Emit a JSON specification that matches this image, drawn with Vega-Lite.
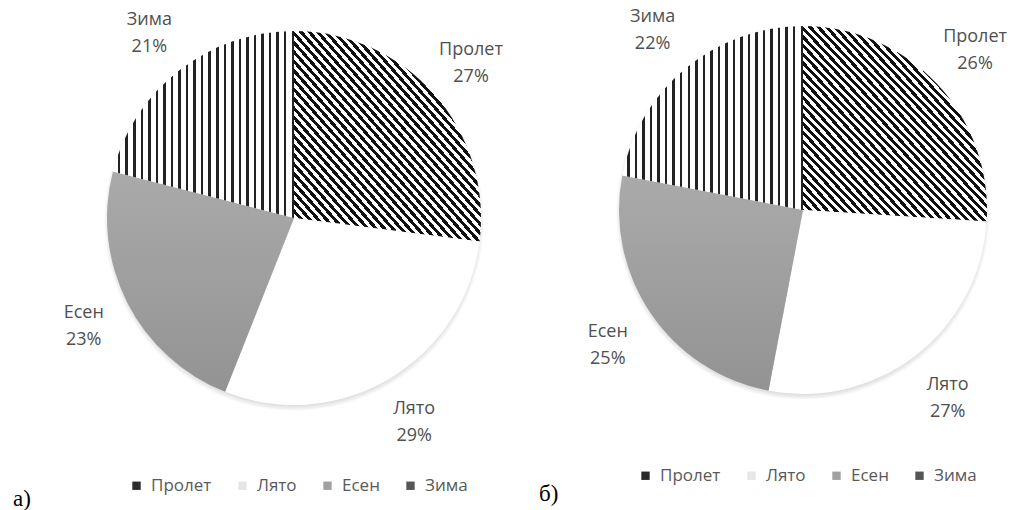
{
"$schema": "https://vega.github.io/schema/vega-lite/v6.json",
"padding": 0,
"bounds": "flush",
"spacing": 0,
"background": "white",
"config": {"view": {"stroke": null}, "font": "Open Sans"},
"datasets": {
"a": [
{"season": "Пролет", "value": 27, "i": 1, "label": "Пролет\n27%"},
{"season": "Лято", "value": 29, "i": 2, "label": "Лято\n29%"},
{"season": "Есен", "value": 23, "i": 3, "label": "Есен\n23%"},
{"season": "Зима", "value": 21, "i": 4, "label": "Зима\n21%"}
],
"b": [
{"season": "Пролет", "value": 26, "i": 1, "label": "Пролет\n26%"},
{"season": "Лято", "value": 27, "i": 2, "label": "Лято\n27%"},
{"season": "Есен", "value": 25, "i": 3, "label": "Есен\n25%"},
{"season": "Зима", "value": 22, "i": 4, "label": "Зима\n22%"}
]
},
"hconcat": [
{
"width": 588, "height": 436,
"data": {"name": "a"},
"layer": [
{
"transform": [{"aggregate": [{"op": "sum", "field": "value", "as": "total"}]}],
"mark": {"type": "arc", "outerRadius": 193, "fill": {"gradient": "radial", "x1": 0.5, "y1": 0.508, "r1": 0, "x2": 0.5, "y2": 0.508, "r2": 0.5, "stops": [{"offset": 0, "color": "#cfcfcf"}, {"offset": 0.94, "color": "#cfcfcf"}, {"offset": 0.985, "color": "#ffffff"}]}},
"encoding": {"theta": {"field": "total", "type": "quantitative"}}
},
{
"mark": {"type": "arc", "outerRadius": 187, "strokeWidth": 0, "opacity": 0},
"encoding": {
"theta": {"field": "value", "type": "quantitative", "stack": true},
"order": {"field": "i", "type": "quantitative"},
"color": {"field": "season", "type": "nominal",
"scale": {"domain": ["Пролет", "Лято", "Есен", "Зима"], "range": ["#2b2b2b", "#e6e6e6", "#a0a0a0", "#555555"]},
"legend": {"orient": "none", "legendX": 13, "legendY": 477, "direction": "horizontal", "columns": 4, "symbolType": "square", "symbolSize": 70, "symbolStrokeWidth": 0, "symbolOpacity": 1, "labelFont": "Open Sans", "labelFontSize": 17, "labelColor": "#595959", "labelOffset": 6, "columnPadding": 22, "title": "а)", "titleOrient": "left", "titleFont": "Liberation Serif", "titleFontSize": 23, "titleFontWeight": "normal", "titleColor": "#000000", "titlePadding": 97, "titleBaseline": "line-top", "titleLineHeight": 28}
}
}
},
{
"mark": {"type": "arc", "outerRadius": 187, "strokeWidth": 0},
"encoding": {
"theta": {"field": "value", "type": "quantitative", "stack": true},
"order": {"field": "i", "type": "quantitative"},
"detail": {"field": "season", "type": "nominal"},
"fill": {"condition": [
{"test": "datum.season === 'Пролет'", "value": {"gradient": "linear", "x1": 0, "y1": 1, "x2": 1, "y2": 0, "stops": [{"offset":0,"color":"#111"},
{"offset":0.0111,"color":"#111"},{"offset":0.0111,"color":"#fff"},
{"offset":0.0222,"color":"#fff"},{"offset":0.0222,"color":"#111"},
{"offset":0.0333,"color":"#111"},{"offset":0.0333,"color":"#fff"},
{"offset":0.0444,"color":"#fff"},{"offset":0.0444,"color":"#111"},
{"offset":0.0556,"color":"#111"},{"offset":0.0556,"color":"#fff"},
{"offset":0.0667,"color":"#fff"},{"offset":0.0667,"color":"#111"},
{"offset":0.0778,"color":"#111"},{"offset":0.0778,"color":"#fff"},
{"offset":0.0889,"color":"#fff"},{"offset":0.0889,"color":"#111"},
{"offset":0.1,"color":"#111"},{"offset":0.1,"color":"#fff"},
{"offset":0.1111,"color":"#fff"},{"offset":0.1111,"color":"#111"},
{"offset":0.1222,"color":"#111"},{"offset":0.1222,"color":"#fff"},
{"offset":0.1333,"color":"#fff"},{"offset":0.1333,"color":"#111"},
{"offset":0.1444,"color":"#111"},{"offset":0.1444,"color":"#fff"},
{"offset":0.1556,"color":"#fff"},{"offset":0.1556,"color":"#111"},
{"offset":0.1667,"color":"#111"},{"offset":0.1667,"color":"#fff"},
{"offset":0.1778,"color":"#fff"},{"offset":0.1778,"color":"#111"},
{"offset":0.1889,"color":"#111"},{"offset":0.1889,"color":"#fff"},
{"offset":0.2,"color":"#fff"},{"offset":0.2,"color":"#111"},
{"offset":0.2111,"color":"#111"},{"offset":0.2111,"color":"#fff"},
{"offset":0.2222,"color":"#fff"},{"offset":0.2222,"color":"#111"},
{"offset":0.2333,"color":"#111"},{"offset":0.2333,"color":"#fff"},
{"offset":0.2444,"color":"#fff"},{"offset":0.2444,"color":"#111"},
{"offset":0.2556,"color":"#111"},{"offset":0.2556,"color":"#fff"},
{"offset":0.2667,"color":"#fff"},{"offset":0.2667,"color":"#111"},
{"offset":0.2778,"color":"#111"},{"offset":0.2778,"color":"#fff"},
{"offset":0.2889,"color":"#fff"},{"offset":0.2889,"color":"#111"},
{"offset":0.3,"color":"#111"},{"offset":0.3,"color":"#fff"},
{"offset":0.3111,"color":"#fff"},{"offset":0.3111,"color":"#111"},
{"offset":0.3222,"color":"#111"},{"offset":0.3222,"color":"#fff"},
{"offset":0.3333,"color":"#fff"},{"offset":0.3333,"color":"#111"},
{"offset":0.3444,"color":"#111"},{"offset":0.3444,"color":"#fff"},
{"offset":0.3556,"color":"#fff"},{"offset":0.3556,"color":"#111"},
{"offset":0.3667,"color":"#111"},{"offset":0.3667,"color":"#fff"},
{"offset":0.3778,"color":"#fff"},{"offset":0.3778,"color":"#111"},
{"offset":0.3889,"color":"#111"},{"offset":0.3889,"color":"#fff"},
{"offset":0.4,"color":"#fff"},{"offset":0.4,"color":"#111"},
{"offset":0.4111,"color":"#111"},{"offset":0.4111,"color":"#fff"},
{"offset":0.4222,"color":"#fff"},{"offset":0.4222,"color":"#111"},
{"offset":0.4333,"color":"#111"},{"offset":0.4333,"color":"#fff"},
{"offset":0.4444,"color":"#fff"},{"offset":0.4444,"color":"#111"},
{"offset":0.4556,"color":"#111"},{"offset":0.4556,"color":"#fff"},
{"offset":0.4667,"color":"#fff"},{"offset":0.4667,"color":"#111"},
{"offset":0.4778,"color":"#111"},{"offset":0.4778,"color":"#fff"},
{"offset":0.4889,"color":"#fff"},{"offset":0.4889,"color":"#111"},
{"offset":0.5,"color":"#111"},{"offset":0.5,"color":"#fff"},
{"offset":0.5111,"color":"#fff"},{"offset":0.5111,"color":"#111"},
{"offset":0.5222,"color":"#111"},{"offset":0.5222,"color":"#fff"},
{"offset":0.5333,"color":"#fff"},{"offset":0.5333,"color":"#111"},
{"offset":0.5444,"color":"#111"},{"offset":0.5444,"color":"#fff"},
{"offset":0.5556,"color":"#fff"},{"offset":0.5556,"color":"#111"},
{"offset":0.5667,"color":"#111"},{"offset":0.5667,"color":"#fff"},
{"offset":0.5778,"color":"#fff"},{"offset":0.5778,"color":"#111"},
{"offset":0.5889,"color":"#111"},{"offset":0.5889,"color":"#fff"},
{"offset":0.6,"color":"#fff"},{"offset":0.6,"color":"#111"},
{"offset":0.6111,"color":"#111"},{"offset":0.6111,"color":"#fff"},
{"offset":0.6222,"color":"#fff"},{"offset":0.6222,"color":"#111"},
{"offset":0.6333,"color":"#111"},{"offset":0.6333,"color":"#fff"},
{"offset":0.6444,"color":"#fff"},{"offset":0.6444,"color":"#111"},
{"offset":0.6556,"color":"#111"},{"offset":0.6556,"color":"#fff"},
{"offset":0.6667,"color":"#fff"},{"offset":0.6667,"color":"#111"},
{"offset":0.6778,"color":"#111"},{"offset":0.6778,"color":"#fff"},
{"offset":0.6889,"color":"#fff"},{"offset":0.6889,"color":"#111"},
{"offset":0.7,"color":"#111"},{"offset":0.7,"color":"#fff"},
{"offset":0.7111,"color":"#fff"},{"offset":0.7111,"color":"#111"},
{"offset":0.7222,"color":"#111"},{"offset":0.7222,"color":"#fff"},
{"offset":0.7333,"color":"#fff"},{"offset":0.7333,"color":"#111"},
{"offset":0.7444,"color":"#111"},{"offset":0.7444,"color":"#fff"},
{"offset":0.7556,"color":"#fff"},{"offset":0.7556,"color":"#111"},
{"offset":0.7667,"color":"#111"},{"offset":0.7667,"color":"#fff"},
{"offset":0.7778,"color":"#fff"},{"offset":0.7778,"color":"#111"},
{"offset":0.7889,"color":"#111"},{"offset":0.7889,"color":"#fff"},
{"offset":0.8,"color":"#fff"},{"offset":0.8,"color":"#111"},
{"offset":0.8111,"color":"#111"},{"offset":0.8111,"color":"#fff"},
{"offset":0.8222,"color":"#fff"},{"offset":0.8222,"color":"#111"},
{"offset":0.8333,"color":"#111"},{"offset":0.8333,"color":"#fff"},
{"offset":0.8444,"color":"#fff"},{"offset":0.8444,"color":"#111"},
{"offset":0.8556,"color":"#111"},{"offset":0.8556,"color":"#fff"},
{"offset":0.8667,"color":"#fff"},{"offset":0.8667,"color":"#111"},
{"offset":0.8778,"color":"#111"},{"offset":0.8778,"color":"#fff"},
{"offset":0.8889,"color":"#fff"},{"offset":0.8889,"color":"#111"},
{"offset":0.9,"color":"#111"},{"offset":0.9,"color":"#fff"},
{"offset":0.9111,"color":"#fff"},{"offset":0.9111,"color":"#111"},
{"offset":0.9222,"color":"#111"},{"offset":0.9222,"color":"#fff"},
{"offset":0.9333,"color":"#fff"},{"offset":0.9333,"color":"#111"},
{"offset":0.9444,"color":"#111"},{"offset":0.9444,"color":"#fff"},
{"offset":0.9556,"color":"#fff"},{"offset":0.9556,"color":"#111"},
{"offset":0.9667,"color":"#111"},{"offset":0.9667,"color":"#fff"},
{"offset":0.9778,"color":"#fff"},{"offset":0.9778,"color":"#111"},
{"offset":0.9889,"color":"#111"},{"offset":0.9889,"color":"#fff"},
{"offset":1,"color":"#fff"}]}},
{"test": "datum.season === 'Есен'", "value": {"gradient": "linear", "x1": 0, "y1": 0, "x2": 0, "y2": 1, "stops": [{"offset": 0, "color": "#aaaaaa"}, {"offset": 1, "color": "#939393"}]}},
{"test": "datum.season === 'Зима'", "value": {"gradient": "linear", "x1": 0, "y1": 0, "x2": 1, "y2": 0, "stops": [{"offset":0,"color":"#fff"},
{"offset":0.0279,"color":"#fff"},{"offset":0.0279,"color":"#222"},
{"offset":0.0417,"color":"#222"},{"offset":0.0417,"color":"#fff"},
{"offset":0.0696,"color":"#fff"},{"offset":0.0696,"color":"#222"},
{"offset":0.0833,"color":"#222"},{"offset":0.0833,"color":"#fff"},
{"offset":0.1113,"color":"#fff"},{"offset":0.1113,"color":"#222"},
{"offset":0.125,"color":"#222"},{"offset":0.125,"color":"#fff"},
{"offset":0.1529,"color":"#fff"},{"offset":0.1529,"color":"#222"},
{"offset":0.1667,"color":"#222"},{"offset":0.1667,"color":"#fff"},
{"offset":0.1946,"color":"#fff"},{"offset":0.1946,"color":"#222"},
{"offset":0.2083,"color":"#222"},{"offset":0.2083,"color":"#fff"},
{"offset":0.2363,"color":"#fff"},{"offset":0.2363,"color":"#222"},
{"offset":0.25,"color":"#222"},{"offset":0.25,"color":"#fff"},
{"offset":0.2779,"color":"#fff"},{"offset":0.2779,"color":"#222"},
{"offset":0.2917,"color":"#222"},{"offset":0.2917,"color":"#fff"},
{"offset":0.3196,"color":"#fff"},{"offset":0.3196,"color":"#222"},
{"offset":0.3333,"color":"#222"},{"offset":0.3333,"color":"#fff"},
{"offset":0.3613,"color":"#fff"},{"offset":0.3613,"color":"#222"},
{"offset":0.375,"color":"#222"},{"offset":0.375,"color":"#fff"},
{"offset":0.4029,"color":"#fff"},{"offset":0.4029,"color":"#222"},
{"offset":0.4167,"color":"#222"},{"offset":0.4167,"color":"#fff"},
{"offset":0.4446,"color":"#fff"},{"offset":0.4446,"color":"#222"},
{"offset":0.4583,"color":"#222"},{"offset":0.4583,"color":"#fff"},
{"offset":0.4863,"color":"#fff"},{"offset":0.4863,"color":"#222"},
{"offset":0.5,"color":"#222"},{"offset":0.5,"color":"#fff"},
{"offset":0.5279,"color":"#fff"},{"offset":0.5279,"color":"#222"},
{"offset":0.5417,"color":"#222"},{"offset":0.5417,"color":"#fff"},
{"offset":0.5696,"color":"#fff"},{"offset":0.5696,"color":"#222"},
{"offset":0.5833,"color":"#222"},{"offset":0.5833,"color":"#fff"},
{"offset":0.6113,"color":"#fff"},{"offset":0.6113,"color":"#222"},
{"offset":0.625,"color":"#222"},{"offset":0.625,"color":"#fff"},
{"offset":0.6529,"color":"#fff"},{"offset":0.6529,"color":"#222"},
{"offset":0.6667,"color":"#222"},{"offset":0.6667,"color":"#fff"},
{"offset":0.6946,"color":"#fff"},{"offset":0.6946,"color":"#222"},
{"offset":0.7083,"color":"#222"},{"offset":0.7083,"color":"#fff"},
{"offset":0.7363,"color":"#fff"},{"offset":0.7363,"color":"#222"},
{"offset":0.75,"color":"#222"},{"offset":0.75,"color":"#fff"},
{"offset":0.7779,"color":"#fff"},{"offset":0.7779,"color":"#222"},
{"offset":0.7917,"color":"#222"},{"offset":0.7917,"color":"#fff"},
{"offset":0.8196,"color":"#fff"},{"offset":0.8196,"color":"#222"},
{"offset":0.8333,"color":"#222"},{"offset":0.8333,"color":"#fff"},
{"offset":0.8613,"color":"#fff"},{"offset":0.8613,"color":"#222"},
{"offset":0.875,"color":"#222"},{"offset":0.875,"color":"#fff"},
{"offset":0.9029,"color":"#fff"},{"offset":0.9029,"color":"#222"},
{"offset":0.9167,"color":"#222"},{"offset":0.9167,"color":"#fff"},
{"offset":0.9446,"color":"#fff"},{"offset":0.9446,"color":"#222"},
{"offset":0.9583,"color":"#222"},{"offset":0.9583,"color":"#fff"},
{"offset":0.9863,"color":"#fff"},{"offset":0.9863,"color":"#222"},
{"offset":1,"color":"#222"}]}}
], "value": "#ffffff"}
}
},
{
"mark": {"type": "text", "radius": 236, "dy": -12, "fontSize": 18, "lineHeight": 27, "lineBreak": "\n", "fill": "#505050", "align": "center", "baseline": "middle"},
"encoding": {
"theta": {"field": "value", "type": "quantitative", "stack": true},
"order": {"field": "i", "type": "quantitative"},
"detail": {"field": "season", "type": "nominal"},
"text": {"field": "label", "type": "nominal"}
}
}
]
},
{
"width": 430, "height": 420,
"data": {"name": "b"},
"layer": [
{
"transform": [{"aggregate": [{"op": "sum", "field": "value", "as": "total"}]}],
"mark": {"type": "arc", "outerRadius": 190, "fill": {"gradient": "radial", "x1": 0.5, "y1": 0.508, "r1": 0, "x2": 0.5, "y2": 0.508, "r2": 0.5, "stops": [{"offset": 0, "color": "#cfcfcf"}, {"offset": 0.94, "color": "#cfcfcf"}, {"offset": 0.985, "color": "#ffffff"}]}},
"encoding": {"theta": {"field": "total", "type": "quantitative"}}
},
{
"mark": {"type": "arc", "outerRadius": 184, "strokeWidth": 0, "opacity": 0},
"encoding": {
"theta": {"field": "value", "type": "quantitative", "stack": true},
"order": {"field": "i", "type": "quantitative"},
"color": {"field": "season", "type": "nominal",
"scale": {"domain": ["Пролет", "Лято", "Есен", "Зима"], "range": ["#2b2b2b", "#e6e6e6", "#a0a0a0", "#555555"]},
"legend": {"orient": "none", "legendX": -49, "legendY": 467, "direction": "horizontal", "columns": 4, "symbolType": "square", "symbolSize": 70, "symbolStrokeWidth": 0, "symbolOpacity": 1, "labelFont": "Open Sans", "labelFontSize": 17, "labelColor": "#595959", "labelOffset": 6, "columnPadding": 22, "title": "б)", "titleOrient": "left", "titleFont": "Liberation Serif", "titleFontSize": 23, "titleFontWeight": "normal", "titleColor": "#000000", "titlePadding": 78, "titleBaseline": "line-top", "titleLineHeight": 39}
}
}
},
{
"mark": {"type": "arc", "outerRadius": 184, "strokeWidth": 0},
"encoding": {
"theta": {"field": "value", "type": "quantitative", "stack": true},
"order": {"field": "i", "type": "quantitative"},
"detail": {"field": "season", "type": "nominal"},
"fill": {"condition": [
{"test": "datum.season === 'Пролет'", "value": {"gradient": "linear", "x1": 0, "y1": 1, "x2": 1, "y2": 0, "stops": [{"offset":0,"color":"#111"},
{"offset":0.0111,"color":"#111"},{"offset":0.0111,"color":"#fff"},
{"offset":0.0222,"color":"#fff"},{"offset":0.0222,"color":"#111"},
{"offset":0.0333,"color":"#111"},{"offset":0.0333,"color":"#fff"},
{"offset":0.0444,"color":"#fff"},{"offset":0.0444,"color":"#111"},
{"offset":0.0556,"color":"#111"},{"offset":0.0556,"color":"#fff"},
{"offset":0.0667,"color":"#fff"},{"offset":0.0667,"color":"#111"},
{"offset":0.0778,"color":"#111"},{"offset":0.0778,"color":"#fff"},
{"offset":0.0889,"color":"#fff"},{"offset":0.0889,"color":"#111"},
{"offset":0.1,"color":"#111"},{"offset":0.1,"color":"#fff"},
{"offset":0.1111,"color":"#fff"},{"offset":0.1111,"color":"#111"},
{"offset":0.1222,"color":"#111"},{"offset":0.1222,"color":"#fff"},
{"offset":0.1333,"color":"#fff"},{"offset":0.1333,"color":"#111"},
{"offset":0.1444,"color":"#111"},{"offset":0.1444,"color":"#fff"},
{"offset":0.1556,"color":"#fff"},{"offset":0.1556,"color":"#111"},
{"offset":0.1667,"color":"#111"},{"offset":0.1667,"color":"#fff"},
{"offset":0.1778,"color":"#fff"},{"offset":0.1778,"color":"#111"},
{"offset":0.1889,"color":"#111"},{"offset":0.1889,"color":"#fff"},
{"offset":0.2,"color":"#fff"},{"offset":0.2,"color":"#111"},
{"offset":0.2111,"color":"#111"},{"offset":0.2111,"color":"#fff"},
{"offset":0.2222,"color":"#fff"},{"offset":0.2222,"color":"#111"},
{"offset":0.2333,"color":"#111"},{"offset":0.2333,"color":"#fff"},
{"offset":0.2444,"color":"#fff"},{"offset":0.2444,"color":"#111"},
{"offset":0.2556,"color":"#111"},{"offset":0.2556,"color":"#fff"},
{"offset":0.2667,"color":"#fff"},{"offset":0.2667,"color":"#111"},
{"offset":0.2778,"color":"#111"},{"offset":0.2778,"color":"#fff"},
{"offset":0.2889,"color":"#fff"},{"offset":0.2889,"color":"#111"},
{"offset":0.3,"color":"#111"},{"offset":0.3,"color":"#fff"},
{"offset":0.3111,"color":"#fff"},{"offset":0.3111,"color":"#111"},
{"offset":0.3222,"color":"#111"},{"offset":0.3222,"color":"#fff"},
{"offset":0.3333,"color":"#fff"},{"offset":0.3333,"color":"#111"},
{"offset":0.3444,"color":"#111"},{"offset":0.3444,"color":"#fff"},
{"offset":0.3556,"color":"#fff"},{"offset":0.3556,"color":"#111"},
{"offset":0.3667,"color":"#111"},{"offset":0.3667,"color":"#fff"},
{"offset":0.3778,"color":"#fff"},{"offset":0.3778,"color":"#111"},
{"offset":0.3889,"color":"#111"},{"offset":0.3889,"color":"#fff"},
{"offset":0.4,"color":"#fff"},{"offset":0.4,"color":"#111"},
{"offset":0.4111,"color":"#111"},{"offset":0.4111,"color":"#fff"},
{"offset":0.4222,"color":"#fff"},{"offset":0.4222,"color":"#111"},
{"offset":0.4333,"color":"#111"},{"offset":0.4333,"color":"#fff"},
{"offset":0.4444,"color":"#fff"},{"offset":0.4444,"color":"#111"},
{"offset":0.4556,"color":"#111"},{"offset":0.4556,"color":"#fff"},
{"offset":0.4667,"color":"#fff"},{"offset":0.4667,"color":"#111"},
{"offset":0.4778,"color":"#111"},{"offset":0.4778,"color":"#fff"},
{"offset":0.4889,"color":"#fff"},{"offset":0.4889,"color":"#111"},
{"offset":0.5,"color":"#111"},{"offset":0.5,"color":"#fff"},
{"offset":0.5111,"color":"#fff"},{"offset":0.5111,"color":"#111"},
{"offset":0.5222,"color":"#111"},{"offset":0.5222,"color":"#fff"},
{"offset":0.5333,"color":"#fff"},{"offset":0.5333,"color":"#111"},
{"offset":0.5444,"color":"#111"},{"offset":0.5444,"color":"#fff"},
{"offset":0.5556,"color":"#fff"},{"offset":0.5556,"color":"#111"},
{"offset":0.5667,"color":"#111"},{"offset":0.5667,"color":"#fff"},
{"offset":0.5778,"color":"#fff"},{"offset":0.5778,"color":"#111"},
{"offset":0.5889,"color":"#111"},{"offset":0.5889,"color":"#fff"},
{"offset":0.6,"color":"#fff"},{"offset":0.6,"color":"#111"},
{"offset":0.6111,"color":"#111"},{"offset":0.6111,"color":"#fff"},
{"offset":0.6222,"color":"#fff"},{"offset":0.6222,"color":"#111"},
{"offset":0.6333,"color":"#111"},{"offset":0.6333,"color":"#fff"},
{"offset":0.6444,"color":"#fff"},{"offset":0.6444,"color":"#111"},
{"offset":0.6556,"color":"#111"},{"offset":0.6556,"color":"#fff"},
{"offset":0.6667,"color":"#fff"},{"offset":0.6667,"color":"#111"},
{"offset":0.6778,"color":"#111"},{"offset":0.6778,"color":"#fff"},
{"offset":0.6889,"color":"#fff"},{"offset":0.6889,"color":"#111"},
{"offset":0.7,"color":"#111"},{"offset":0.7,"color":"#fff"},
{"offset":0.7111,"color":"#fff"},{"offset":0.7111,"color":"#111"},
{"offset":0.7222,"color":"#111"},{"offset":0.7222,"color":"#fff"},
{"offset":0.7333,"color":"#fff"},{"offset":0.7333,"color":"#111"},
{"offset":0.7444,"color":"#111"},{"offset":0.7444,"color":"#fff"},
{"offset":0.7556,"color":"#fff"},{"offset":0.7556,"color":"#111"},
{"offset":0.7667,"color":"#111"},{"offset":0.7667,"color":"#fff"},
{"offset":0.7778,"color":"#fff"},{"offset":0.7778,"color":"#111"},
{"offset":0.7889,"color":"#111"},{"offset":0.7889,"color":"#fff"},
{"offset":0.8,"color":"#fff"},{"offset":0.8,"color":"#111"},
{"offset":0.8111,"color":"#111"},{"offset":0.8111,"color":"#fff"},
{"offset":0.8222,"color":"#fff"},{"offset":0.8222,"color":"#111"},
{"offset":0.8333,"color":"#111"},{"offset":0.8333,"color":"#fff"},
{"offset":0.8444,"color":"#fff"},{"offset":0.8444,"color":"#111"},
{"offset":0.8556,"color":"#111"},{"offset":0.8556,"color":"#fff"},
{"offset":0.8667,"color":"#fff"},{"offset":0.8667,"color":"#111"},
{"offset":0.8778,"color":"#111"},{"offset":0.8778,"color":"#fff"},
{"offset":0.8889,"color":"#fff"},{"offset":0.8889,"color":"#111"},
{"offset":0.9,"color":"#111"},{"offset":0.9,"color":"#fff"},
{"offset":0.9111,"color":"#fff"},{"offset":0.9111,"color":"#111"},
{"offset":0.9222,"color":"#111"},{"offset":0.9222,"color":"#fff"},
{"offset":0.9333,"color":"#fff"},{"offset":0.9333,"color":"#111"},
{"offset":0.9444,"color":"#111"},{"offset":0.9444,"color":"#fff"},
{"offset":0.9556,"color":"#fff"},{"offset":0.9556,"color":"#111"},
{"offset":0.9667,"color":"#111"},{"offset":0.9667,"color":"#fff"},
{"offset":0.9778,"color":"#fff"},{"offset":0.9778,"color":"#111"},
{"offset":0.9889,"color":"#111"},{"offset":0.9889,"color":"#fff"},
{"offset":1,"color":"#fff"}]}},
{"test": "datum.season === 'Есен'", "value": {"gradient": "linear", "x1": 0, "y1": 0, "x2": 0, "y2": 1, "stops": [{"offset": 0, "color": "#aaaaaa"}, {"offset": 1, "color": "#939393"}]}},
{"test": "datum.season === 'Зима'", "value": {"gradient": "linear", "x1": 0, "y1": 0, "x2": 1, "y2": 0, "stops": [{"offset":0,"color":"#fff"},
{"offset":0.0279,"color":"#fff"},{"offset":0.0279,"color":"#222"},
{"offset":0.0417,"color":"#222"},{"offset":0.0417,"color":"#fff"},
{"offset":0.0696,"color":"#fff"},{"offset":0.0696,"color":"#222"},
{"offset":0.0833,"color":"#222"},{"offset":0.0833,"color":"#fff"},
{"offset":0.1113,"color":"#fff"},{"offset":0.1113,"color":"#222"},
{"offset":0.125,"color":"#222"},{"offset":0.125,"color":"#fff"},
{"offset":0.1529,"color":"#fff"},{"offset":0.1529,"color":"#222"},
{"offset":0.1667,"color":"#222"},{"offset":0.1667,"color":"#fff"},
{"offset":0.1946,"color":"#fff"},{"offset":0.1946,"color":"#222"},
{"offset":0.2083,"color":"#222"},{"offset":0.2083,"color":"#fff"},
{"offset":0.2363,"color":"#fff"},{"offset":0.2363,"color":"#222"},
{"offset":0.25,"color":"#222"},{"offset":0.25,"color":"#fff"},
{"offset":0.2779,"color":"#fff"},{"offset":0.2779,"color":"#222"},
{"offset":0.2917,"color":"#222"},{"offset":0.2917,"color":"#fff"},
{"offset":0.3196,"color":"#fff"},{"offset":0.3196,"color":"#222"},
{"offset":0.3333,"color":"#222"},{"offset":0.3333,"color":"#fff"},
{"offset":0.3613,"color":"#fff"},{"offset":0.3613,"color":"#222"},
{"offset":0.375,"color":"#222"},{"offset":0.375,"color":"#fff"},
{"offset":0.4029,"color":"#fff"},{"offset":0.4029,"color":"#222"},
{"offset":0.4167,"color":"#222"},{"offset":0.4167,"color":"#fff"},
{"offset":0.4446,"color":"#fff"},{"offset":0.4446,"color":"#222"},
{"offset":0.4583,"color":"#222"},{"offset":0.4583,"color":"#fff"},
{"offset":0.4863,"color":"#fff"},{"offset":0.4863,"color":"#222"},
{"offset":0.5,"color":"#222"},{"offset":0.5,"color":"#fff"},
{"offset":0.5279,"color":"#fff"},{"offset":0.5279,"color":"#222"},
{"offset":0.5417,"color":"#222"},{"offset":0.5417,"color":"#fff"},
{"offset":0.5696,"color":"#fff"},{"offset":0.5696,"color":"#222"},
{"offset":0.5833,"color":"#222"},{"offset":0.5833,"color":"#fff"},
{"offset":0.6113,"color":"#fff"},{"offset":0.6113,"color":"#222"},
{"offset":0.625,"color":"#222"},{"offset":0.625,"color":"#fff"},
{"offset":0.6529,"color":"#fff"},{"offset":0.6529,"color":"#222"},
{"offset":0.6667,"color":"#222"},{"offset":0.6667,"color":"#fff"},
{"offset":0.6946,"color":"#fff"},{"offset":0.6946,"color":"#222"},
{"offset":0.7083,"color":"#222"},{"offset":0.7083,"color":"#fff"},
{"offset":0.7363,"color":"#fff"},{"offset":0.7363,"color":"#222"},
{"offset":0.75,"color":"#222"},{"offset":0.75,"color":"#fff"},
{"offset":0.7779,"color":"#fff"},{"offset":0.7779,"color":"#222"},
{"offset":0.7917,"color":"#222"},{"offset":0.7917,"color":"#fff"},
{"offset":0.8196,"color":"#fff"},{"offset":0.8196,"color":"#222"},
{"offset":0.8333,"color":"#222"},{"offset":0.8333,"color":"#fff"},
{"offset":0.8613,"color":"#fff"},{"offset":0.8613,"color":"#222"},
{"offset":0.875,"color":"#222"},{"offset":0.875,"color":"#fff"},
{"offset":0.9029,"color":"#fff"},{"offset":0.9029,"color":"#222"},
{"offset":0.9167,"color":"#222"},{"offset":0.9167,"color":"#fff"},
{"offset":0.9446,"color":"#fff"},{"offset":0.9446,"color":"#222"},
{"offset":0.9583,"color":"#222"},{"offset":0.9583,"color":"#fff"},
{"offset":0.9863,"color":"#fff"},{"offset":0.9863,"color":"#222"},
{"offset":1,"color":"#222"}]}}
], "value": "#ffffff"}
}
},
{
"mark": {"type": "text", "radius": 236, "dy": -11, "fontSize": 18, "lineHeight": 27, "lineBreak": "\n", "fill": "#505050", "align": "center", "baseline": "middle"},
"encoding": {
"theta": {"field": "value", "type": "quantitative", "stack": true},
"order": {"field": "i", "type": "quantitative"},
"detail": {"field": "season", "type": "nominal"},
"text": {"field": "label", "type": "nominal"}
}
}
]
}
],
"resolve": {"scale": {"color": "independent", "theta": "independent"}, "legend": {"color": "independent"}}
}
